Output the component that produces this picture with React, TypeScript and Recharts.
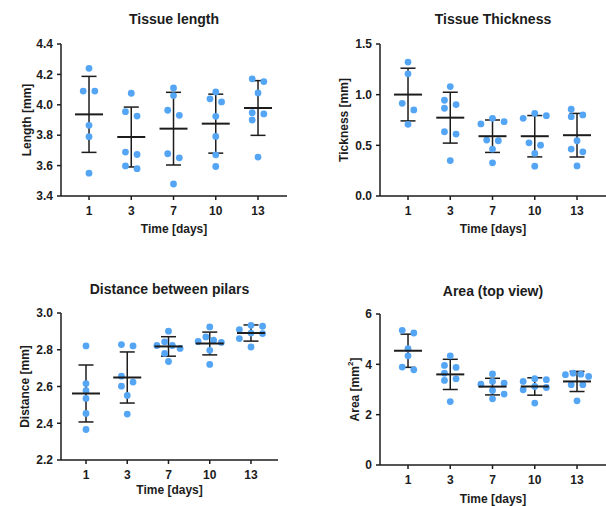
import React from "react";
import { ScatterChart, Scatter, XAxis, YAxis, ErrorBar } from "recharts";

const DAYS = ["1", "3", "7", "10", "13"];

// values (one list per day)
const LENGTH_POINTS = [
  [4.24, 4.09, 4.09, 3.865, 3.79, 3.55],
  [4.076, 3.955, 3.926, 3.689, 3.673, 3.598, 3.58],
  [4.111, 4.061, 3.964, 3.931, 3.678, 3.651, 3.479],
  [4.085, 4.039, 4.019, 3.924, 3.792, 3.671, 3.594],
  [4.171, 4.153, 4.078, 3.948, 3.94, 3.9, 3.656],
];
const LENGTH_MEAN = [3.937, 3.788, 3.843, 3.876, 3.979];
const LENGTH_SD = [0.25, 0.197, 0.239, 0.194, 0.18];

const THICK_POINTS = [
  [1.322, 1.206, 0.915, 0.849, 0.707],
  [1.08, 0.945, 0.902, 0.866, 0.634, 0.611, 0.35],
  [0.767, 0.733, 0.711, 0.552, 0.545, 0.463, 0.327],
  [0.816, 0.793, 0.767, 0.525, 0.502, 0.42, 0.294],
  [0.856, 0.8, 0.783, 0.545, 0.463, 0.436, 0.297],
];
const THICK_MEAN = [1.001, 0.773, 0.59, 0.59, 0.6];
const THICK_SD = [0.26, 0.251, 0.16, 0.204, 0.215];

const DIST_POINTS = [
  [2.821, 2.616, 2.578, 2.535, 2.453, 2.366],
  [2.828, 2.821, 2.656, 2.624, 2.602, 2.551, 2.45],
  [2.901, 2.843, 2.823, 2.823, 2.807, 2.78, 2.736],
  [2.924, 2.87, 2.852, 2.845, 2.84, 2.797, 2.72],
  [2.933, 2.928, 2.91, 2.891, 2.888, 2.861, 2.815],
];
const DIST_MEAN = [2.562, 2.649, 2.818, 2.834, 2.891];
const DIST_SD = [0.155, 0.139, 0.053, 0.062, 0.044];

const AREA_POINTS = [
  [5.35, 5.245, 4.62, 4.34, 3.89, 3.78],
  [4.34, 3.956, 3.876, 3.65, 3.426, 3.36, 2.52],
  [3.62, 3.32, 3.25, 3.21, 2.96, 2.82, 2.63],
  [3.43, 3.39, 3.32, 3.12, 3.08, 2.99, 2.46],
  [3.65, 3.61, 3.59, 3.52, 3.19, 3.19, 2.55],
];
const AREA_MEAN = [4.54, 3.6, 3.115, 3.12, 3.32];
const AREA_SD = [0.66, 0.6, 0.33, 0.345, 0.4];

const FONT = '"Liberation Sans", Arial, sans-serif';
const INK = "#1c1c1c";
const DOT = "#55a5f5";
const W = 606;
const H = 506;

// spread points sideways like a prism scatter (beeswarm-ish)
function spread(values: number[], pxPerUnit: number): number[] {
  const D = 6.8, STEP = 5.8, MAXW = 11.6;
  const order = values.map((_, i) => i).sort((a, b) => values[b] - values[a]);
  const dx = values.map(() => 0);
  const place = (g: number[]) => {
    const placed: { x: number; y: number }[] = [];
    for (const idx of g) {
      const y = -values[idx] * pxPerUnit;
      let chosen = 0;
      for (const k of [0, 2, -2, 1, -1, 3, -3, 4, -4, 5, -5]) {
        const x = k * STEP;
        if (placed.every((p) => Math.hypot(p.x - x, p.y - y) >= D)) {
          chosen = x;
          break;
        }
      }
      placed.push({ x: chosen, y });
    }
    const offs = placed.map((p) => p.x);
    const mid = (Math.min(...offs) + Math.max(...offs)) / 2;
    let sh = offs.map((o) => o - mid);
    const m = Math.max(...sh.map(Math.abs));
    if (m > MAXW) sh = sh.map((o) => (o * MAXW) / m);
    g.forEach((idx, j) => (dx[idx] = sh[j]));
  };
  let group: number[] = [];
  order.forEach((idx, j) => {
    if (j > 0 && (values[order[j - 1]] - values[idx]) * pxPerUnit >= D) {
      place(group);
      group = [];
    }
    group.push(idx);
  });
  place(group);
  return dx;
}

type Plot = { left: number; top: number; width: number; height: number };

interface PanelProps {
  title: string;
  yLabel: React.ReactNode;
  points: number[][];
  mean: number[];
  sd: number[];
  yDomain: [number, number];
  yTicks: number[];
  digits: number;
  plot: Plot;
  xDomain: [number, number];
  titleY: number;
  yLabelX: number;
  xLabelY: number;
}

const tickStyle = { fill: INK, fontSize: 12, fontWeight: 700, fontFamily: FONT };

function Panel(p: PanelProps) {
  const { plot } = p;
  const ppu = plot.height / (p.yDomain[1] - p.yDomain[0]);
  const dots = p.points.flatMap((vals, i) => {
    const dx = spread(vals, ppu);
    return vals.map((v, j) => ({ x: i, y: v, dx: dx[j] }));
  });
  const bars = p.mean.map((m, i) => ({ x: i, y: m, sd: p.sd[i] }));
  const yAxisW = 45;
  const xAxisH = 30;
  const cx = plot.left + plot.width / 2;
  const cy = plot.top + plot.height / 2;

  return (
    <>
      <div style={{ position: "absolute", left: 0, top: 0 }}>
        <ScatterChart
          width={W}
          height={H}
          margin={{
            top: plot.top,
            left: plot.left - yAxisW,
            right: W - plot.left - plot.width,
            bottom: H - plot.top - plot.height - xAxisH,
          }}
        >
          <XAxis
            type="number"
            dataKey="x"
            domain={p.xDomain}
            allowDataOverflow
            ticks={[0, 1, 2, 3, 4]}
            tickFormatter={(i: number) => DAYS[i]}
            height={xAxisH}
            tickSize={4}
            tickMargin={6}
            axisLine={{ stroke: INK, strokeWidth: 1.5 }}
            tickLine={{ stroke: INK, strokeWidth: 1.5 }}
            tick={tickStyle}
            interval={0}
          />
          <YAxis
            type="number"
            dataKey="y"
            domain={p.yDomain}
            allowDataOverflow
            ticks={p.yTicks}
            tickFormatter={(v: number) => v.toFixed(p.digits)}
            width={yAxisW}
            tickSize={4}
            tickMargin={4}
            axisLine={{ stroke: INK, strokeWidth: 1.5 }}
            tickLine={{ stroke: INK, strokeWidth: 1.5 }}
            tick={tickStyle}
            interval={0}
          />
          <Scatter
            data={dots}
            isAnimationActive={false}
            shape={(s: any) => (
              <circle cx={s.cx + s.payload.dx} cy={s.cy} r={3.4} fill={DOT} />
            )}
          />
          <Scatter
            data={bars}
            isAnimationActive={false}
            shape={(s: any) => (
              <line x1={s.cx - 14} x2={s.cx + 14} y1={s.cy} y2={s.cy} stroke={INK} strokeWidth={2} />
            )}
          >
            <ErrorBar dataKey="sd" direction="y" width={7.5} stroke={INK} strokeWidth={1.5} />
          </Scatter>
        </ScatterChart>
      </div>
      <svg
        width={W}
        height={H}
        style={{ position: "absolute", left: 0, top: 0, pointerEvents: "none" }}
        fontFamily={FONT}
        fontWeight={700}
        fill={INK}
      >
        <text x={cx} y={p.titleY} fontSize={14} textAnchor="middle" dominantBaseline="central">
          {p.title}
        </text>
        <text x={cx} y={p.xLabelY} fontSize={12} textAnchor="middle" dominantBaseline="central">
          Time [days]
        </text>
        <text
          x={p.yLabelX}
          y={cy}
          fontSize={12}
          textAnchor="middle"
          dominantBaseline="central"
          transform={`rotate(-90 ${p.yLabelX} ${cy})`}
        >
          {p.yLabel}
        </text>
      </svg>
    </>
  );
}

export default function App() {
  return (
    <div
      style={{
        position: "fixed",
        left: 0,
        top: 0,
        width: W,
        height: H,
        overflow: "hidden",
        background: "#fff",
      }}
    >
      <Panel
        title="Tissue length"
        yLabel="Length [mm]"
        points={LENGTH_POINTS}
        mean={LENGTH_MEAN}
        sd={LENGTH_SD}
        yDomain={[3.4, 4.4]}
        yTicks={[3.4, 3.6, 3.8, 4.0, 4.2, 4.4]}
        digits={1}
        plot={{ left: 61, top: 44, width: 226, height: 152 }}
        xDomain={[-0.663, 4.686]}
        titleY={19}
        yLabelX={27}
        xLabelY={229}
      />
      <Panel
        title="Tissue Thickness"
        yLabel="Tickness [mm]"
        points={THICK_POINTS}
        mean={THICK_MEAN}
        sd={THICK_SD}
        yDomain={[0, 1.5]}
        yTicks={[0, 0.5, 1.0, 1.5]}
        digits={1}
        plot={{ left: 380, top: 44, width: 226, height: 152 }}
        xDomain={[-0.663, 4.686]}
        titleY={19}
        yLabelX={344}
        xLabelY={229}
      />
      <Panel
        title="Distance between pilars"
        yLabel="Distance [mm]"
        points={DIST_POINTS}
        mean={DIST_MEAN}
        sd={DIST_SD}
        yDomain={[2.2, 3.0]}
        yTicks={[2.2, 2.4, 2.6, 2.8, 3.0]}
        digits={1}
        plot={{ left: 61, top: 313, width: 217, height: 147 }}
        xDomain={[-0.606, 4.655]}
        titleY={289}
        yLabelX={25}
        xLabelY={490}
      />
      <Panel
        title="Area (top view)"
        yLabel={
          <>
            Area [mm
            <tspan dy={-5} fontSize={8}>
              2
            </tspan>
            <tspan dy={5}>]</tspan>
          </>
        }
        points={AREA_POINTS}
        mean={AREA_MEAN}
        sd={AREA_SD}
        yDomain={[0, 6]}
        yTicks={[0, 2, 4, 6]}
        digits={0}
        plot={{ left: 380, top: 314, width: 226, height: 151 }}
        xDomain={[-0.663, 4.686]}
        titleY={291}
        yLabelX={355}
        xLabelY={499}
      />
    </div>
  );
}
